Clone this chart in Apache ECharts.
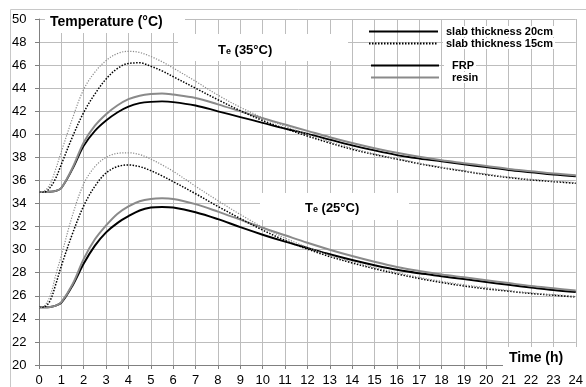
<!DOCTYPE html>
<html>
<head>
<meta charset="utf-8">
<script src="https://cdn.jsdelivr.net/npm/echarts@6/dist/echarts.min.js"></script>
<style>
  html, body { margin: 0; padding: 0; background: #fff; }
  #chart { width: 586px; height: 387px; }
</style>
</head>
<body>
<div id="chart"></div>
<script>
// time axis (h), shared by all curves
const time = [0, 0.25, 0.5, 0.75, 1, 1.5, 2, 2.5, 3, 3.5, 4, 4.5, 5, 5.5, 6,
  7, 8, 9, 10, 11, 12, 13, 14, 15, 16, 17, 18, 19, 20, 21, 22, 23, 24];

// Te = 35 °C
const frp20_35 = [35, 35, 35.02, 35.1, 35.35, 37.0, 39.0, 40.3, 41.2, 41.9, 42.4, 42.7, 42.82, 42.85, 42.8,
  42.5, 42.0, 41.5, 41.0, 40.5, 40.05, 39.55, 39.05, 38.6, 38.2, 37.9, 37.65, 37.4, 37.15, 36.9, 36.7, 36.5, 36.35];
const resin20_35 = [35, 35, 35.02, 35.1, 35.35, 37.1, 39.3, 40.75, 41.75, 42.5, 43.05, 43.35, 43.5, 43.55, 43.45,
  43.15, 42.6, 42.0, 41.4, 40.85, 40.3, 39.75, 39.25, 38.8, 38.4, 38.05, 37.75, 37.5, 37.25, 37.0, 36.8, 36.6, 36.45];
const frp15_35 = [35, 35, 35.4, 36.2, 37.4, 39.8, 41.9, 43.5, 44.8, 45.7, 46.15, 46.2, 45.9, 45.5, 45.0,
  44.0, 43.0, 42.05, 41.2, 40.5, 39.85, 39.25, 38.7, 38.25, 37.85, 37.45, 37.1, 36.8, 36.5, 36.25, 36.05, 35.9, 35.75];
const resin15_35 = [35, 35.1, 35.7, 37.0, 38.5, 41.4, 43.9, 45.4, 46.4, 47.0, 47.2, 47.1, 46.75, 46.3, 45.75,
  44.6, 43.4, 42.35, 41.45, 40.7, 40.0, 39.35, 38.8, 38.3, 37.9, 37.5, 37.15, 36.85, 36.55, 36.3, 36.1, 35.95, 35.8];

// Te = 25 °C
const frp20_25 = [25, 25, 25.03, 25.15, 25.4, 26.9, 28.8, 30.35, 31.5, 32.3, 32.9, 33.4, 33.65, 33.7, 33.65,
  33.25, 32.65, 31.95, 31.3, 30.7, 30.15, 29.6, 29.1, 28.65, 28.25, 27.95, 27.7, 27.45, 27.2, 26.95, 26.72, 26.5, 26.33];
const resin20_25 = [25, 25, 25.03, 25.15, 25.45, 27.0, 29.2, 30.9, 32.1, 33.1, 33.75, 34.2, 34.4, 34.45, 34.4,
  33.95, 33.3, 32.6, 31.9, 31.25, 30.6, 30.0, 29.45, 28.95, 28.5, 28.15, 27.85, 27.6, 27.35, 27.1, 26.85, 26.65, 26.45];
const frp15_25 = [25, 25.05, 25.6, 27.0, 28.6, 31.4, 33.8, 35.5, 36.65, 37.2, 37.35, 37.2, 36.85, 36.4, 35.9,
  34.85, 33.75, 32.7, 31.7, 30.8, 30.05, 29.4, 28.85, 28.35, 27.9, 27.5, 27.15, 26.85, 26.6, 26.4, 26.2, 26.05, 25.9];
const resin15_25 = [25, 25.15, 26.0, 27.8, 29.5, 33.0, 35.7, 37.2, 38.0, 38.35, 38.4, 38.25, 37.85, 37.35, 36.8,
  35.5, 34.25, 33.05, 31.95, 31.0, 30.2, 29.5, 28.95, 28.45, 28.0, 27.6, 27.25, 26.95, 26.7, 26.45, 26.25, 26.1, 25.95];

const legendThickness = ['slab thickness 20cm', 'slab thickness 15cm'];
const legendMaterial = ['FRP', 'resin'];

const FONT = "'Liberation Sans', Arial, sans-serif";
const BLACK = '#000000';
const GREY = '#8a8a8a';

function curve(name, values, color, width, dash) {
  return {
    name: name,
    type: 'line',
    data: time.map((t, i) => [t, values[i]]),
    symbol: 'none',
    smooth: 0.35,
    silent: true,
    itemStyle: { color: color },
    lineStyle: { color: color, width: width, type: dash || 'solid' }
  };
}

const chart = echarts.init(document.getElementById('chart'));

const legendText = {
  fontFamily: FONT, fontSize: 11, fontWeight: 'bold', color: '#000',
  backgroundColor: '#fff', lineHeight: 11
};

const subLabel = {
  t: { fontFamily: FONT, fontSize: 13, fontWeight: 'bold', fill: '#000', lineHeight: 15, verticalAlign: 'bottom' },
  s: { fontFamily: FONT, fontSize: 9, fontWeight: 'bold', fill: '#000', lineHeight: 11, verticalAlign: 'bottom' }
};

chart.setOption({
  animation: false,
  grid: { left: 39, right: 5, top: 19, bottom: 21 },
  xAxis: {
    type: 'value', min: 0, max: 24, interval: 1,
    axisLine: { lineStyle: { color: '#808080', width: 1 } },
    axisTick: { show: true, length: 4, lineStyle: { color: '#808080' } },
    axisLabel: { fontFamily: FONT, fontSize: 13, color: '#000', margin: 9 },
    splitLine: { show: true, lineStyle: { color: '#bdbdbd', width: 1 } }
  },
  yAxis: {
    type: 'value', min: 20, max: 50, interval: 2,
    axisLine: { show: true, lineStyle: { color: '#808080', width: 1 } },
    axisTick: { show: true, length: 4, lineStyle: { color: '#808080' } },
    axisLabel: { fontFamily: FONT, fontSize: 13, color: '#000', align: 'left', margin: 27 },
    splitLine: { show: true, lineStyle: { color: '#bdbdbd', width: 1 } }
  },
  legend: [
    {
      data: legendThickness, orient: 'vertical', left: 368, top: 26, padding: 0,
      itemWidth: 69, itemHeight: 11, itemGap: 1,
      itemStyle: { opacity: 0 },
      textStyle: Object.assign({}, legendText, { padding: [0, 2, 0, 3] })
    },
    {
      data: legendMaterial, orient: 'vertical', left: 370, top: 60, padding: 0,
      itemWidth: 68, itemHeight: 10, itemGap: 1,
      itemStyle: { opacity: 0 },
      textStyle: Object.assign({}, legendText, { padding: [0, 2, 0, 8] })
    }
  ],
  graphic: [
    { type: 'rect', z: 100, shape: { x: 10.5, y: 9.5, width: 600, height: 400 },
      style: { fill: 'none', stroke: '#c8c8c8', lineWidth: 1 } },
    { type: 'rect', z: 100, shape: { x: 45, y: 10, width: 140, height: 23 }, style: { fill: '#fff' } },
    { type: 'text', z: 101, style: { x: 50, y: 22, text: 'Temperature (°C)', verticalAlign: 'middle',
      font: 'bold 14px ' + FONT, fill: '#000' } },
    { type: 'rect', z: 100, shape: { x: 178, y: 34, width: 170, height: 27 }, style: { fill: '#fff' } },
    { type: 'text', z: 101, style: { x: 218, y: 49, verticalAlign: 'middle',
      text: '{t|T}{s|e}{t| (35°C)}', rich: subLabel } },
    { type: 'rect', z: 100, shape: { x: 260, y: 193, width: 149, height: 27 }, style: { fill: '#fff' } },
    { type: 'text', z: 101, style: { x: 305, y: 207, verticalAlign: 'middle',
      text: '{t|T}{s|e}{t| (25°C)}', rich: subLabel } },
    { type: 'rect', z: 100, shape: { x: 503, y: 347, width: 90, height: 23 }, style: { fill: '#fff' } },
    { type: 'text', z: 101, style: { x: 509, y: 358, text: 'Time (h)', verticalAlign: 'middle',
      font: 'bold 14px ' + FONT, fill: '#000' } }
  ],
  series: [
    curve('slab thickness 20cm', frp20_35, BLACK, 1.8),
    curve('resin', resin20_35, GREY, 2),
    curve('slab thickness 15cm', frp15_35, BLACK, 1.5, [1.5, 1.5]),
    curve('resin 15cm 35', resin15_35, GREY, 1.2, [1.2, 1.5]),
    curve('FRP', frp20_25, BLACK, 2),
    curve('resin 20cm 25', resin20_25, GREY, 2),
    curve('FRP 15cm 25', frp15_25, BLACK, 1.5, [1.5, 1.5]),
    curve('resin 15cm 25', resin15_25, GREY, 1.2, [1.2, 1.5])
  ]
});
</script>
</body>
</html>
